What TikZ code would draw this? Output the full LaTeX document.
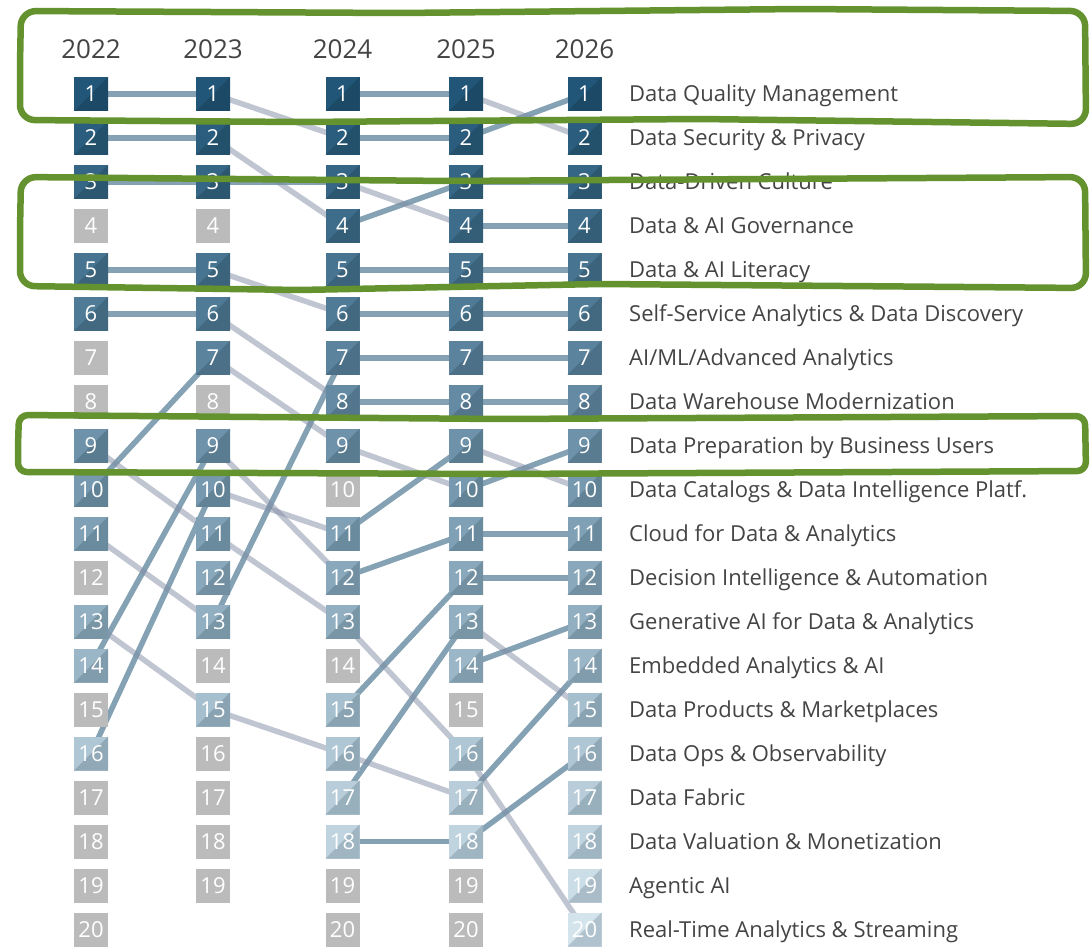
\documentclass[tikz,border=0pt]{standalone}
\usepackage{fontspec}
\setmainfont{Open Sans}
\pgfdeclarelayer{bg}
\pgfsetlayers{bg,main}
\definecolor{tA}{RGB}{34,86,120}
\definecolor{tZ}{RGB}{212,228,236}
\definecolor{bA}{RGB}{28,74,102}
\definecolor{bZ}{RGB}{176,194,205}
\definecolor{gbox}{RGB}{187,187,187}
\definecolor{upc}{RGB}{50,100,130}
\definecolor{dnc}{RGB}{130,140,165}
\definecolor{grn}{RGB}{100,146,46}
\definecolor{txt}{RGB}{68,68,68}
\begin{document}
\begin{tikzpicture}[x=1pt,y=-1pt,
  rk/.style={minimum size=34pt, inner sep=0pt, text=white, font=\fontsize{22}{22}\selectfont, fill=cT,
    path picture={\fill[cB] (path picture bounding box.south west) -- (path picture bounding box.south east) -- (path picture bounding box.north east) -- cycle;}},
  gb/.style={minimum size=34pt, inner sep=0pt, text=white, font=\fontsize{22}{22}\selectfont, fill=gbox},
  up/.style={line width=5.5pt, draw=upc, opacity=0.6},
  dn/.style={line width=5.5pt, draw=dnc, opacity=0.5},
  yr/.style={font=\fontsize{26}{26}\selectfont, text=txt},
  lab/.style={anchor=west, font=\fontsize{22}{22}\selectfont, text=txt, text height=15.7pt, text depth=0pt, inner sep=0pt},
  hand/.style={draw=grn, line width=6.5pt, line join=round, line cap=round}]
\useasboundingbox (0,0) rectangle (1091,947);
% year headers
\node[yr] (y22) at (91,49) {2022};
\node[yr] (y23) at (213,49) {2023};
\node[yr] (y24) at (342.5,49) {2024};
\node[yr] (y25) at (466,49) {2025};
\node[yr] (y26) at (584.5,49) {2026};
% coloured boxes
\foreach \col/\x/\lst in {a/91/{1,2,3,5,6,9,10,11,13,14,16},
                          b/213/{1,2,3,5,6,7,9,10,11,12,13,15},
                          c/342.5/{1,2,3,4,5,6,7,8,9,11,12,13,15,16,17,18},
                          d/466/{1,2,3,4,5,6,7,8,9,10,11,12,13,14,16,17,18},
                          e/584.5/{1,2,3,4,5,6,7,8,9,10,11,12,13,14,15,16,17,18,19,20}}{
  \foreach \r in \lst {
    \pgfmathtruncatemacro\p{round((\r-1)*100/19)}
    \colorlet{cT}{tZ!\p!tA}
    \colorlet{cB}{bZ!\p!bA}
    \node[rk] (\col\r) at (\x,{94+(\r-1)*43.98}) {\r};
  }
}
% grey boxes
\foreach \col/\x/\lst in {a/91/{4,7,8,12,15,17,18,19,20},
                          b/213/{4,8,14,16,17,18,19},
                          c/342.5/{10,14,19,20},
                          d/466/{15,19,20}}{
  \foreach \r in \lst {
    \node[gb] (\col\r) at (\x,{94+(\r-1)*43.98}) {\r};
  }
}
% connectors
\begin{pgfonlayer}{bg}
\foreach \i/\j in {1/1,2/2,3/3,5/5,6/6,10/7,14/9,16/10} \draw[up] (a\i.center) -- (b\j.center);
\foreach \i/\j in {9/11,11/13,13/15} \draw[dn] (a\i.center) -- (b\j.center);
\foreach \i/\j in {3/3,13/7} \draw[up] (b\i.center) -- (c\j.center);
\foreach \i/\j in {1/2,2/4,5/6,6/8,7/9,9/12,10/11,11/13,15/16} \draw[dn] (b\i.center) -- (c\j.center);
\foreach \i/\j in {1/1,2/2,4/3,5/5,6/6,7/7,8/8,11/9,12/11,15/12,17/13,18/18} \draw[up] (c\i.center) -- (d\j.center);
\foreach \i/\j in {3/4,9/10,13/16,16/17} \draw[dn] (c\i.center) -- (d\j.center);
\foreach \i/\j in {2/1,3/3,4/4,5/5,6/6,7/7,8/8,10/9,11/11,12/12,14/13,17/14,18/16} \draw[up] (d\i.center) -- (e\j.center);
\foreach \i/\j in {1/2,9/10,13/15,16/20} \draw[dn] (d\i.center) -- (e\j.center);
\end{pgfonlayer}
% labels
\node[lab] (l1) at (629,{94+0*43.98}) {Data Quality Management};
\node[lab] (l2) at (629,{94+1*43.98}) {Data Security \& Privacy};
\node[lab] (l3) at (629,{94+2*43.98}) {Data-Driven Culture};
\node[lab] (l4) at (629,{94+3*43.98}) {Data \& AI Governance};
\node[lab] (l5) at (629,{94+4*43.98}) {Data \& AI Literacy};
\node[lab] (l6) at (629,{94+5*43.98}) {Self-Service Analytics \& Data Discovery};
\node[lab] (l7) at (629,{94+6*43.98}) {AI/ML/Advanced Analytics};
\node[lab] (l8) at (629,{94+7*43.98}) {Data Warehouse Modernization};
\node[lab] (l9) at (629,{94+8*43.98}) {Data Preparation by Business Users};
\node[lab] (l10) at (629,{94+9*43.98}) {Data Catalogs \& Data Intelligence Platf.};
\node[lab] (l11) at (629,{94+10*43.98}) {Cloud for Data \& Analytics};
\node[lab] (l12) at (629,{94+11*43.98}) {Decision Intelligence \& Automation};
\node[lab] (l13) at (629,{94+12*43.98}) {Generative AI for Data \& Analytics};
\node[lab] (l14) at (629,{94+13*43.98}) {Embedded Analytics \& AI};
\node[lab] (l15) at (629,{94+14*43.98}) {Data Products \& Marketplaces};
\node[lab] (l16) at (629,{94+15*43.98}) {Data Ops \& Observability};
\node[lab] (l17) at (629,{94+16*43.98}) {Data Fabric};
\node[lab] (l18) at (629,{94+17*43.98}) {Data Valuation \& Monetization};
\node[lab] (l19) at (629,{94+18*43.98}) {Agentic AI};
\node[lab] (l20) at (629,{94+19*43.98}) {Real-Time Analytics \& Streaming};
% hand-drawn highlight frames
\draw[hand, rounded corners=15pt] (20,65) -- (21,11) -- (400,13) -- (800,9) -- (1085,11) -- (1086,124) -- (700,119) -- (300,122) -- (20,120) -- cycle;
\draw[hand, rounded corners=15pt] (20,230) -- (21,177) -- (450,181) -- (1085,177) -- (1086,288) -- (600,284) -- (300,290) -- (20,286) -- cycle;
\draw[hand, rounded corners=9pt] (18,445) -- (19,415) -- (500,419) -- (1085,416) -- (1086,471) -- (500,474) -- (18,472) -- cycle;
\end{tikzpicture}
\end{document}
